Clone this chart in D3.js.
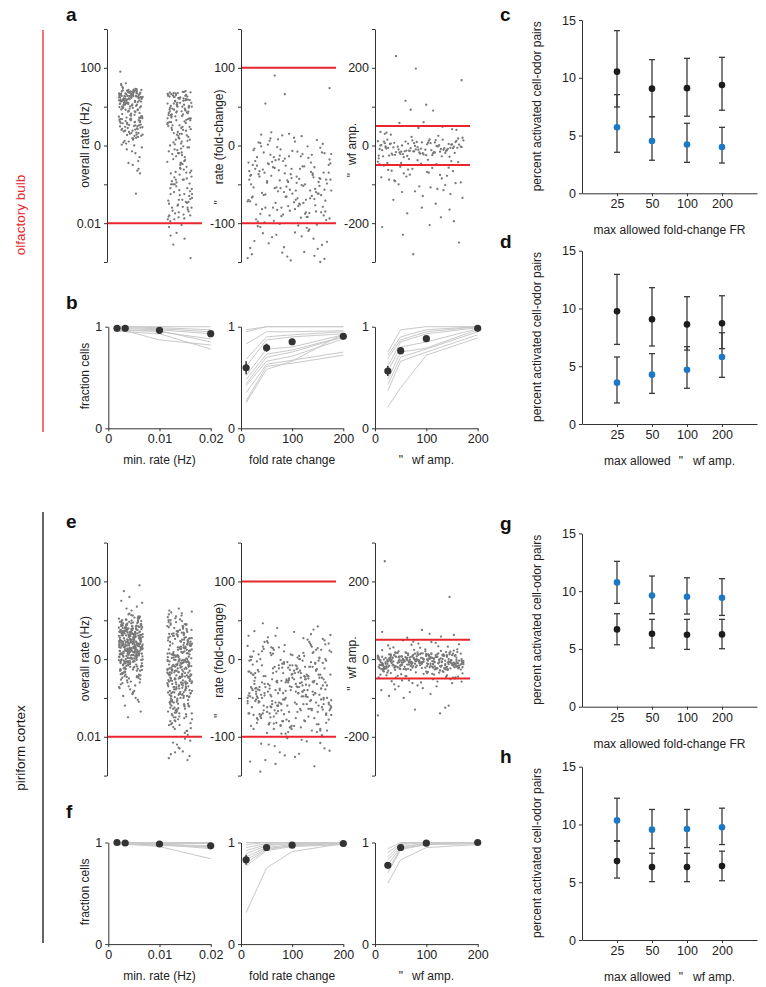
<!DOCTYPE html>
<html><head><meta charset="utf-8">
<script src="https://cdn.jsdelivr.net/npm/d3@7"></script>
<style>
body{margin:0;background:#fff}
svg{font-family:Arial,"Liberation Sans",sans-serif}
</style></head><body>
<svg id="fig" width="766" height="987"></svg>
<script>
// ---------------- DATA ----------------
// horizontal jitter (0-99) used to spread the strip points
const jitter = [12,67,34,88,5,51,73,29,94,41,60,18,83,8,47,70,25,91,38,56,3,79,15,64,32,97,44,21,86,53,10,75,36,68,1,58,27,92,49,14,81,39,62,6,71,23,89,45,31,77,17,99,55,9,66,42,85,26,59,2,74,35,96,48,11,80,28,63,19,87,52,7,69,37,93,24,57,13,84,40,65,4,76,30,90,46,16,61,33,98,50,20,82,43,72,0,78];

// olfactory bulb: overall rate, log10(Hz) x100, two groups
const obRate1 = [128,112,141,98,124,77,135,108,143,89,127,118,65,132,101,146,120,54,138,106,129,93,115,140,72,123,137,110,84,131,155,105,119,41,134,97,126,113,139,81,122,107,144,68,128,117,136,95,111,50,142,125,103,133,88,121,116,38,130,99,145,109,75,137,114,126,92,140,104,60,132,119,86,128,25,113,138,100,123,143,79,107,134,117,46,127,96,141,111,70,129,121,32,136,102,124,91,139,115,58,133,108,82,126,160,120,10,135,98,130,114,67,142,105,125,87,18,131,112,150,0,118,74,137,106,-30,123,93,140,128,52,116,-50,134,101,125,43,-40,110,138,190,-124,127,63,119,132,-65,148,28,-15,158,60,35,72,48,15,66,28,55,-5,78,40,22,63,50,8,70,32,58,-20,45,75,12,38,68,52,-45,25,62,44,5,71,30,57,18,-10,47,65,36,-60,53,20,74,42,2,61,27,-72,49,69,33];
const obRate2 = [120,85,-40,133,10,-120,65,-75,102,-160,28,138,-15,92,-100,48,-185,115,-55,75,-135,5,126,-88,35,-170,108,-25,58,-145,130,-65,18,97,-110,-190,80,40,-5,124,-150,62,-95,137,-35,88,-125,22,110,-178,50,-70,3,117,-140,72,-48,134,-112,30,95,-165,-20,128,55,-85,-195,105,15,-130,78,-58,140,-10,42,-155,100,-92,68,-180,122,-30,8,-118,88,-45,131,-148,60,-2,113,-80,25,-168,98,-60,136,38,-105,-188,70,-18,125,-138,52,-72,12,106,-158,84,-38,129,-98,20,-175,118,45,-125,-8,93,-62,135,-145,32,76,-190,58,-28,110,-115,0,126,-82,40,-160,102,-50,-210,-240,-225,-290,-255,-205,-232,87,-12,121,-142,66,-100,15,-172,132,48,-68,100,-128,-22,83,-152,116,-42,26,-110,138,-88,70,-183,110,90,125,70,100,-140,80,118,60,-20,95,135,-70,105,45,128,85,-100,115,75,-160,122,52,98,-45,88,130,65,-125,108,30,92,-180,120,78,-5,102,-88];
// olfactory bulb: rate fold-change
const obFold = [-10,-45,5,-72,-28,-88,12,-55,-18,-36,-80,-3,-62,-95,-22,8,-50,-70,-40,-12,-85,15,-33,-60,-5,-76,-25,-92,-48,2,-66,-15,-38,-82,-58,10,-30,-74,-20,-52,-90,-8,-44,-68,-2,-35,-78,-26,-56,17,-14,-64,-86,-42,-6,-70,-32,-96,-23,-58,4,-47,-80,-11,-38,-65,-28,-90,-53,-1,-75,-19,-44,-84,-35,7,-60,-16,-72,-41,-98,-27,-54,-9,-67,-37,-87,-21,-49,13,-78,-31,-62,-4,-45,-92,-24,-57,-13,-82,-39,-69,3,-51,-29,-94,-17,-63,-43,-7,-76,-34,-59,-88,-22,-48,9,-71,-14,-40,-85,-55,-30,-66,-1,-46,-79,-26,-97,-36,-61,-11,-73,-20,-52,-89,-42,6,-68,-33,-58,-83,-25,-47,-15,-77,-39,-93,-9,-64,-30,-54,-86,-18,-44,1,-70,-37,-62,-91,-27,-50,-12,-80,-35,-66,14,-43,-74,-23,-57,-99,-102,-131,-110,-145,-120,-104,-137,-115,-128,-140,-148,-108,-118,-124,-138,-103,-113,-133,-123,-143,-106,-126,-146,-101,-112,-132,-142,-105,-117,90,74,66,54,-150];
// olfactory bulb: waveform amplitude change
const obWf = [-5,8,-15,2,-22,12,-9,-28,5,-3,-18,15,-12,0,-25,7,-7,-20,10,-2,-14,18,-10,3,-26,-6,13,-17,1,-11,-30,9,-4,-21,6,-13,20,-8,-24,4,-1,-16,11,-19,-6,14,-27,-3,-12,8,-9,-22,2,-15,16,-5,-29,6,-11,-2,-18,12,-7,-25,0,-14,5,-20,10,-4,-10,-17,3,-23,-8,15,-13,-1,-26,7,-16,-6,-21,4,-9,22,-12,-28,1,-3,-19,9,-15,-7,-24,13,-11,-2,-18,6,-40,-55,-70,-48,-85,-62,-95,-105,-45,-78,-120,-58,-90,-66,-130,-52,-112,-75,-43,-100,-68,-88,-125,-60,-50,-82,-115,-72,-97,-38,-65,-108,-80,-135,-47,-92,-57,-118,-76,-42,-102,-63,-150,-175,-195,-210,-160,-185,-230,-250,-280,-205,-140,-165,30,45,25,58,40,92,105,35,50,28,90,115,168,198,230,42,60,33,48,-35,-48,-33,-37,-45];

// piriform cortex
const pcRate1 = [40,12,75,-20,58,33,90,-5,66,21,105,-38,48,8,82,27,-12,61,44,97,-30,15,70,36,112,-8,53,25,88,-45,4,64,30,79,-22,47,18,101,39,-15,57,10,85,31,-50,69,22,94,42,-2,76,14,59,35,108,-26,50,6,83,28,-10,63,45,98,-34,19,72,38,115,-6,55,24,86,-42,2,67,32,80,-18,49,16,103,41,-14,60,11,87,29,-55,71,20,92,43,0,77,13,56,37,110,-28,52,7,81,26,-9,65,46,95,-36,17,73,34,117,-4,54,23,89,-47,3,68,31,78,-24,46,9,100,40,-16,62,12,84,30,-52,70,21,93,44,-1,74,15,58,36,106,-32,51,5,86,27,-11,64,47,99,-40,18,71,39,113,-7,56,26,90,-44,1,66,33,79,-20,48,17,102,42,-13,61,10,88,28,-58,69,19,96,45,-3,75,14,57,35,109,-30,50,8,82,25,-70,-85,-95,-110,-65,-78,-100,-120,-135,-150,-90,-75,-105,-62,-82,130,145,160,175,190,125,150,135,-60,-68,-72,-88,38,62,20,-48,84,11,54,-26,29,73,22,51,-18,66,9,37,84,-3,29,58,14,73,-27,46,5,91,32,-9,61,19,78,41,-35,55,1,69,26,-14,87,48,11,35,-40,63,17,96,39,-6,52,24,80,-22,44,7,71,31,-48,59,13,104,36,-1,67,21,-30,50,3,76,43,-17,57,28,92,9,-39,65,34,-8,49,18,85,38,-25,62,2,72,27,-12,54,15,99,42,-44,68,23,6,79,33,-20,47,12,60,40,-4,74,20,-33,56,30,89,10,-16,64,45,-53,37,16,83,25,-7,70,4,51,-28,43,94,34,-11,58,19,-60,77,29,8,48,-2,66,39,-37,53,22,107,13,-19,61,31,-5,86,44,-46,26,70,-24,36,59,0,81];
const pcRate2 = [-10,25,-45,60,-80,5,-30,90,-120,40,-60,15,-95,70,-20,-150,50,-5,-70,110,-40,30,-110,0,80,-55,-165,20,-85,65,-25,-130,45,-15,-65,100,-35,10,-100,55,-75,-180,35,-50,120,-90,-2,-140,75,-28,15,-115,-60,85,-8,-160,42,-78,-18,95,-48,28,-125,-88,62,-38,3,-105,125,-68,-190,18,-52,72,-12,-135,38,-95,-32,105,-58,8,-145,52,-22,-82,88,-42,-118,-3,68,-72,22,-170,-108,48,-15,-62,115,-36,-128,12,-92,-50,78,-26,-155,32,-6,-85,58,-46,-112,98,-66,-22,-138,2,-76,44,-185,-34,82,-56,-98,26,-14,-122,64,-40,-175,-4,92,-70,-102,36,-54,-148,10,-30,130,-88,-44,-132,54,-16,-64,-195,24,-80,-28,74,-48,-116,6,-96,-38,102,-58,-158,34,-12,-74,-142,46,-24,-90,-2,66,-52,-110,18,-86,-42,-168,84,-20,-62,-126,40,-8,-100,-34,56,-72,-152,14,-46,-18,-210,-230,-245,-260,-220,-238,-255,-205,-215,-250,-228,-240,-25,12,-58,45,-92,-8,30,-120,60,-40,5,-75,95,-18,-140,35,-62,-2,78,-105,20,-48,-170,55,-30,-88,10,112,-55,-15,-130,68,-38,2,-98,40,-70,-22,85,-150,25,-45,-110,-5,72,-80,-35,15,-125,50,-60,-12,100,-90,32,-52,-178,8,-28,65,-115,-42,-3,90,-72,22,-135,-20,48,-95,-50,18,-160,75,-33,-85,6,-10,58,-142,-65,28,-26,118,-78,-44,0,-102,38,-16,-68,82,-128,14,-56,-6,52,-185,-36,-82,26,-112,62,-24,-48,4,-92,108,-64,-14,36,-148,-40,70,-86,-2,-30,-122,46,-58,20,-76,-165,10,-20,88,-46,-106,30,-70,-8,-138,54,-34,-96,16,-52,122,-88,-18,42,-155,-4,-62,24,-116,66];
const pcFold = [-20,5,-45,18,-60,-10,30,-35,-75,0,-25,-55,12,-85,-15,-40,25,-68,-5,-50,-90,8,-30,-62,35,-18,-48,-80,2,-38,-12,-70,20,-28,-58,-94,-3,-44,15,-66,-22,-52,-86,10,-33,-8,-72,28,-42,-16,-60,-96,-2,-36,-64,14,-26,-78,-46,4,-56,-20,-88,22,-32,-6,-74,-50,38,-14,-40,-82,-24,-62,6,-34,-54,-92,-11,-44,16,-68,-28,-4,-58,-84,24,-38,-18,-48,-76,0,-30,-66,11,-52,-22,-90,-8,-42,32,-60,-26,-70,-13,-46,19,-80,-36,-56,-1,-64,-20,-40,-95,26,-30,-74,-10,-50,9,-86,-24,-58,-44,1,-34,-68,-16,-54,40,-78,-28,-48,-6,-62,-88,13,-38,-20,-72,-46,-12,-82,21,-32,-56,-2,-66,-42,-18,-92,7,-52,-26,-76,-36,30,-60,-14,-44,-84,-4,-64,17,-30,-50,-22,-70,-98,3,-40,-10,-58,-34,-80,-17,46,42,36,-102,-106,-110,-115,-120,-126,-132,-138,-145,-104,-112,-118,-124,-130,-108,-19,-37,-53,-67,-23,-47,-9,-61,-39,-27,-71,-15,-57,-31,-7,-49,23,-65,-41,-83,-29,10,-53,-15,-38,8,-52,-24,-70,2,-44,-10,-60,20,-30,-82,-5,-48,-18,-66,12,-36,-90,-26,-56,-2,-42,-76,6,-20,-58,-34,-86,16,-12,-50,-28,-72,0,-40,-64,-8,-32,-94,10,-22,-54,-46,-78,4,-16,-62,-38,-88,22,-26,-50,-6,-44,-70,14,-32,-60,-20,-84,-12,-40,-56,3,-28,-74,-48,-10,-66,18,-36,-92,-24,-52,-4,-44,-80,-16,-58,8,-30,-68,-40,-14,-86,0,-50,-22,-62,-34,-96,12,-42,-8,-72,-26,-54,27,-18,-46,-82,-36,-2,-64,-30,-56,-11,-76,-44,5,-24,-60,-38,-90,-20,-48,15,-70,-32,-8,-54,-84,-28,-42,-1,-66,-18,-58,-100,-109,-122,-135,31,-35,-47,-13,-71,-25,-57,9,-39,-79,-29];
const pcWf = [-5,10,-15,3,-22,14,-8,-26,6,-2,-18,20,-11,1,-24,8,-6,-16,12,-3,-13,17,-9,4,-27,-7,15,-19,0,-12,-29,9,-4,-20,5,-14,22,-10,-23,2,-1,-17,11,-21,-6,16,-25,-3,-11,7,-8,-28,13,-15,18,-5,-22,5,-12,-2,-19,10,-7,-24,0,-14,6,-20,12,-4,-10,-16,3,-26,-9,15,-13,-1,-21,8,-17,-6,-23,4,-9,25,-12,-27,1,-3,-18,9,-15,-8,-25,14,-11,-2,-20,7,-5,11,-14,2,-21,13,-7,-24,5,-1,-17,19,-10,0,-26,9,-4,-15,12,-2,-12,16,-8,3,-28,-6,14,-18,1,-13,-30,10,-3,-19,6,-11,21,-9,-22,4,0,-16,12,-20,-5,15,-24,-2,-10,8,-7,-27,12,-14,17,-4,-21,6,-11,-1,-18,11,-6,-23,1,-13,7,-19,13,-3,-9,-15,4,-25,-8,16,-12,0,-20,9,-16,-5,-22,3,-8,24,-11,-26,2,-2,-17,10,-14,-7,-35,-42,-55,-38,-65,-48,-75,-32,-58,-85,-45,-70,-36,-95,-52,-62,-40,-80,-33,-100,-47,-68,-57,-90,-44,-37,-60,-78,-120,-130,-140,-145,-125,35,42,55,62,70,75,58,48,38,45,65,30,160,252,40,33,-8,4,-18,12,-3,-22,8,-12,-26,0,-6,16,-15,-1,-20,10,-9,-24,5,-4,-14,18,-11,2,-28,-7,13,-17,-2,-10,-21,7,-5,-25,3,-13,20,-8,-19,1,-3,-16,11,-23,-6,14,-27,-4,-12,6,-9,-20,9,-15,15,-1,-24,4,-11,-5,-18,12,-7,-22,2,-14,8,-26,10,-2,-10,-17,0,-21,-8,17,-13,-3,-29,6,-16,-6,-25,3,-9,23,-12,-20,1,-4,-18,7,-15,-7,-23,11,-11,-1,-19,5,-32,-40,-46,-36,-52,-44,-58,-34,-48,-62,-38,-42,-31,-55,-70,-47,-33,-39,25,29,27,32,37,44,-30,-35,-43,-50];

// fraction-of-cells curves (b, f)
const minRateX = [0.0017, 0.0033, 0.01, 0.02];
const foldX = [10, 50, 100, 200];
const wfX = [25, 50, 100, 200];
const obMinRateLines = [[1,1,1,1],[1,1,0.99,0.97],[0.99,0.99,0.98,0.95],[0.98,0.98,0.97,0.93],[0.97,0.97,0.95,0.88],[0.96,0.96,0.96,0.85],[0.95,0.96,0.87,0.82],[0.97,0.95,0.93,0.78]];
const obFoldLines = [[0.97,1,1,1],[0.95,1,1,1],[0.83,0.95,0.95,0.96],[0.68,0.9,0.92,0.95],[0.61,0.87,0.9,0.93],[0.52,0.78,0.8,0.92],[0.48,0.73,0.77,0.9],[0.44,0.7,0.75,0.9],[0.42,0.66,0.71,0.88],[0.35,0.63,0.67,0.75],[0.27,0.61,0.64,0.72],[0.25,0.58,0.66,0.93]];
const obWfLines = [[0.75,0.97,1,1],[0.72,0.9,0.97,1],[0.69,0.87,0.95,1],[0.61,0.85,0.93,0.99],[0.56,0.8,0.85,0.98],[0.48,0.75,0.79,0.97],[0.43,0.7,0.78,0.95],[0.37,0.66,0.75,0.92],[0.21,0.4,0.72,0.89]];
const obMinRateMean = [0.984,0.984,0.964,0.931], obMinRateErr = [0.005,0.005,0.01,0.012];
const obFoldMean = [0.596,0.793,0.852,0.905], obFoldErr = [0.065,0.04,0.03,0.02];
const obWfMean = [0.564,0.764,0.882,0.984], obWfErr = [0.05,0.035,0.015,0.005];
const pcMinRateLines = [[1,1,1,1],[1,1,0.99,0.99],[0.99,1,0.98,0.97],[1,0.99,0.99,0.95],[0.99,0.98,0.97,0.96],[1,0.99,0.96,0.84],[0.98,0.98,0.98,0.94]];
const pcFoldLines = [[1,1,1,1],[0.98,1,1,1],[0.95,0.99,1,1],[0.92,0.98,0.99,1],[0.89,0.97,0.99,0.99],[0.86,0.95,0.98,0.99],[0.83,0.94,0.97,0.99],[0.8,0.93,0.97,0.98],[0.77,0.92,0.96,0.98],[0.31,0.75,0.91,0.99]];
const pcWfLines = [[0.94,1,1,1],[0.9,0.99,1,1],[0.86,0.98,1,1],[0.83,0.96,0.99,1],[0.78,0.95,0.99,1],[0.73,0.94,0.98,0.99],[0.7,0.93,0.98,0.99],[0.6,0.83,0.95,0.98]];
const pcMinRateMean = [1.0,0.995,0.985,0.967], pcMinRateErr = [0.003,0.003,0.008,0.012];
const pcFoldMean = [0.83,0.951,0.974,0.99], pcFoldErr = [0.05,0.015,0.01,0.005];
const pcWfMean = [0.775,0.951,0.993,1.0], pcWfErr = [0.02,0.01,0.005,0.002];

// percent activated cell-odor pairs (c, d, g, h)
const maxAllowed = ["25","50","100","200"];
const cBlackMean = [10.53,9.06,9.10,9.38], cBlackLo = [7.47,6.63,6.67,7.19], cBlackHi = [14.08,11.57,11.68,11.77];
const cBlueMean = [5.71,4.53,4.23,4.01], cBlueLo = [3.55,2.86,2.68,2.62], cBlueHi = [8.54,6.63,6.06,5.71];
const dBlackMean = [9.75,9.06,8.62,8.71], dBlackLo = [6.89,6.75,6.40,6.52], dBlackHi = [12.95,11.80,11.02,11.10];
const dBlueMean = [3.58,4.27,4.70,5.80], dBlueLo = [1.82,2.65,3.09,4.04], dBlueHi = [5.80,6.09,6.69,7.90];
const gBlackMean = [6.69,6.32,6.23,6.26], gBlackLo = [5.36,5.08,4.96,5.02], gBlackHi = [8.05,7.56,7.56,7.56];
const gBlueMean = [10.76,9.63,9.52,9.43], gBlueLo = [8.94,8.05,8.02,7.90], gBlueHi = [12.58,11.31,11.16,11.08];
const hBlackMean = [6.83,6.31,6.31,6.40], hBlackLo = [5.36,5.05,5.05,5.13], hBlackHi = [8.55,7.51,7.51,7.69];
const hBlueMean = [10.35,9.55,9.61,9.75], hBlueLo = [8.60,7.92,8.00,8.26], hBlueHi = [12.27,11.30,11.30,11.41];

// ---------------- DRAWING ----------------
const svg = d3.select("#fig");
const TXT = "#222", AX = "#333", RED = "#e8262c", PT = "#787878", GL = "#c9c9c9", DOT = "#333", BLUE = "#1b78c6", BLK = "#1c1c1c";
const FS = 12.5;

function styleAxis(g) {
  g.attr("font-size", FS).attr("font-family", "Arial, 'Liberation Sans', sans-serif");
  g.select(".domain").attr("stroke", AX);
  g.selectAll(".tick line").attr("stroke", AX);
  g.selectAll(".tick text").attr("fill", TXT);
}
function yAxisAt(x, scale, ticks, fmt) {
  const g = svg.append("g").attr("transform", `translate(${x},0)`)
    .call(d3.axisLeft(scale).tickValues(ticks).tickSize(3).tickSizeOuter(0).tickPadding(3).tickFormat(fmt));
  styleAxis(g); return g;
}
function xAxisAt(y, scale, ticks, fmt) {
  const g = svg.append("g").attr("transform", `translate(0,${y})`)
    .call(d3.axisBottom(scale).tickValues(ticks).tickSize(3).tickSizeOuter(0).tickPadding(3).tickFormat(fmt));
  styleAxis(g); return g;
}
function rotLabel(x, y, parts, color) {
  const t = svg.append("text").attr("transform", `translate(${x},${y}) rotate(-90)`)
    .attr("text-anchor", "middle").attr("font-size", 12).attr("fill", color || TXT);
  parts.forEach(p => t.append("tspan").attr("dx", p[1] || 0).text(p[0]));
  return t;
}
function hLabel(x, y, parts, size) {
  const t = svg.append("text").attr("x", x).attr("y", y).attr("text-anchor", "middle")
    .attr("font-size", size || 12).attr("fill", TXT);
  parts.forEach(p => t.append("tspan").attr("dx", p[1] || 0).text(p[0]));
  return t;
}
function letter(x, y, s) {
  svg.append("text").attr("x", x).attr("y", y).attr("font-size", 19).attr("font-weight", "bold").attr("fill", "#111").text(s);
}
function dots(vals, xf, ys, off) {
  svg.append("g").selectAll("circle").data(vals).join("circle")
    .attr("cx", (d, i) => xf(jitter[(i + off) % jitter.length] / 99))
    .attr("cy", d => ys(d)).attr("r", 1.15).attr("fill", PT);
}
function redLine(x0, x1, ys, v) {
  svg.append("line").attr("x1", x0).attr("x2", x1).attr("y1", ys(v)).attr("y2", ys(v))
    .attr("stroke", RED).attr("stroke-width", 2);
}

function scatterRow(dy, r1, r2, fold, wf, off) {
  const top = 29 + dy, bot = 262 + dy;
  // rate panel (log scale shown as 0.01, 0, 100)
  const xR = d3.scaleLinear().domain([0.5, 2.5]).range([107, 202]);
  const yR = d3.scaleLinear().domain([-300, 300]).range([bot, top]);
  dots(r1, j => xR(0.75 + 0.5 * j), yR, off);
  dots(r2, j => xR(1.77 + 0.52 * j), yR, off + 31);
  redLine(107, 202, yR, -200);
  yAxisAt(107, yR, [-300, -200, -100, 0, 100, 200, 300], d => ({"200": "100", "0": "0", "-200": "0.01"})[d] || "");
  rotLabel(89, 145 + dy, [["overall rate (Hz)"]]);
  // fold-change panel
  const xF = d3.scaleLinear().domain([0, 1]).range([241, 336]);
  const yF = d3.scaleLinear().domain([-150, 150]).range([bot, top]);
  dots(fold, j => xF(0.07 + 0.88 * j), yF, off + 17);
  redLine(241, 336, yF, 100);
  redLine(241, 336, yF, -100);
  yAxisAt(241, yF, [-150, -100, -50, 0, 50, 100, 150], d => (d === 100 || d === 0 || d === -100) ? String(d) : "");
  rotLabel(222.5, 147 + dy, [['"'], ["rate (fold-change)", 16]]);
  // waveform amplitude panel
  const xW = d3.scaleLinear().domain([0, 1]).range([375, 470]);
  const yW = d3.scaleLinear().domain([-300, 300]).range([bot, top]);
  dots(wf, j => xW(0.03 + 0.9 * j), yW, off + 53);
  redLine(375, 470, yW, 50);
  redLine(375, 470, yW, -50);
  yAxisAt(375, yW, [-300, -200, -100, 0, 100, 200, 300], d => (d === 200 || d === 0 || d === -200) ? String(d) : "");
  rotLabel(356, 150 + dy, [['"'], ["wf amp.", 8]]);
}

function fracPanel(x0, x1, dy, xdom, xticks, xfmt, xs4, lines, mean, err, xlabel) {
  const y0 = 428.3 + dy, y1 = 326.7 + dy;
  const xs = d3.scaleLinear().domain(xdom).range([x0, x1]);
  const ys = d3.scaleLinear().domain([0, 1]).range([y0, y1]);
  const line = d3.line().x((d, i) => xs(xs4[i])).y(d => ys(d));
  svg.append("g").selectAll("path").data(lines).join("path")
    .attr("d", line).attr("fill", "none").attr("stroke", GL).attr("stroke-width", 1);
  svg.append("g").selectAll("line").data(mean).join("line")
    .attr("x1", (d, i) => xs(xs4[i])).attr("x2", (d, i) => xs(xs4[i]))
    .attr("y1", (d, i) => ys(d - err[i])).attr("y2", (d, i) => ys(Math.min(1.003, d + err[i])))
    .attr("stroke", DOT).attr("stroke-width", 1.5);
  svg.append("g").selectAll("circle").data(mean).join("circle")
    .attr("cx", (d, i) => xs(xs4[i])).attr("cy", d => ys(d)).attr("r", 3.6).attr("fill", DOT);
  yAxisAt(x0, ys, [0, 1], d3.format("d"));
  xAxisAt(y0, xs, xticks, xfmt);
  hLabel((x0 + x1) / 2, 464 + dy, xlabel);
}
function fracRow(dy, L1, L2, L3, M1, E1, M2, E2, M3, E3) {
  fracPanel(108.3, 210.7, dy, [0, 0.02], [0, 0.01, 0.02], d => d === 0 ? "0" : d3.format(".2f")(d), minRateX, L1, M1, E1, [["min. rate (Hz)"]]);
  fracPanel(241, 343.3, dy, [0, 200], [0, 100, 200], d3.format("d"), foldX, L2, M2, E2, [["fold rate change"]]);
  fracPanel(375, 477.7, dy, [0, 200], [0, 100, 200], d3.format("d"), wfX, L3, M3, E3, [['"'], ["wf amp.", 9]]);
  rotLabel(89, 376 + dy, [["fraction cells"]]);
}

function errPanel(y0, bm, blo, bhi, um, ulo, uhi, xlabel) {
  const xs = d3.scaleLinear().domain([0, 5]).range([582, 757]);
  const ys = d3.scaleLinear().domain([0, 15]).range([y0, y0 - 173.3]);
  const series = [[bm, blo, bhi, BLK], [um, ulo, uhi, BLUE]];
  series.forEach(([m, lo, hi]) => {
    const g = svg.append("g");
    m.forEach((v, i) => {
      const x = xs(i + 1);
      g.append("line").attr("x1", x).attr("x2", x).attr("y1", ys(lo[i])).attr("y2", ys(hi[i])).attr("stroke", "#3a3a3a").attr("stroke-width", 1.3);
      [lo[i], hi[i]].forEach(e => g.append("line").attr("x1", x - 3).attr("x2", x + 3).attr("y1", ys(e)).attr("y2", ys(e)).attr("stroke", "#3a3a3a").attr("stroke-width", 1.3));
    });
  });
  series.forEach(([m, lo, hi, col]) => {
    svg.append("g").selectAll("circle").data(m).join("circle")
      .attr("cx", (d, i) => xs(i + 1)).attr("cy", d => ys(d)).attr("r", 3.3).attr("fill", col);
  });
  yAxisAt(582, ys, [0, 5, 10, 15], d3.format("d"));
  xAxisAt(y0, xs, [1, 2, 3, 4], d => maxAllowed[d - 1]);
  rotLabel(541, y0 - 87, [["percent activated cell-odor pairs"]]).attr("font-size", 12);
  hLabel(669.5, y0 + 41, xlabel);
}

// group labels
svg.append("line").attr("x1", 43).attr("x2", 43).attr("y1", 30).attr("y2", 432).attr("stroke", RED).attr("stroke-width", 1.3);
svg.append("line").attr("x1", 43).attr("x2", 43).attr("y1", 512).attr("y2", 943).attr("stroke", "#111").attr("stroke-width", 1.3);
rotLabel(25, 215, [["olfactory bulb"]], RED).attr("font-size", 13.5);
rotLabel(25, 748, [["piriform cortex"]], "#111").attr("font-size", 13.5);

// panels
scatterRow(0, obRate1, obRate2, obFold, obWf, 0);
scatterRow(513.6, pcRate1, pcRate2, pcFold, pcWf, 11);
fracRow(0, obMinRateLines, obFoldLines, obWfLines, obMinRateMean, obMinRateErr, obFoldMean, obFoldErr, obWfMean, obWfErr);
fracRow(515.8, pcMinRateLines, pcFoldLines, pcWfLines, pcMinRateMean, pcMinRateErr, pcFoldMean, pcFoldErr, pcWfMean, pcWfErr);
errPanel(193.3, cBlackMean, cBlackLo, cBlackHi, cBlueMean, cBlueLo, cBlueHi, [["max allowed fold-change FR"]]);
errPanel(424, dBlackMean, dBlackLo, dBlackHi, dBlueMean, dBlueLo, dBlueHi, [["max allowed"], ['"', 8], ["wf amp.", 10]]);
errPanel(706.7, gBlackMean, gBlackLo, gBlackHi, gBlueMean, gBlueLo, gBlueHi, [["max allowed fold-change FR"]]);
errPanel(940, hBlackMean, hBlackLo, hBlackHi, hBlueMean, hBlueLo, hBlueHi, [["max allowed"], ['"', 8], ["wf amp.", 10]]);

letter(66, 21, "a"); letter(66, 309, "b"); letter(500, 21, "c"); letter(500, 248, "d");
letter(66, 528, "e"); letter(66, 818, "f"); letter(500, 530, "g"); letter(500, 763, "h");
</script></body></html>
